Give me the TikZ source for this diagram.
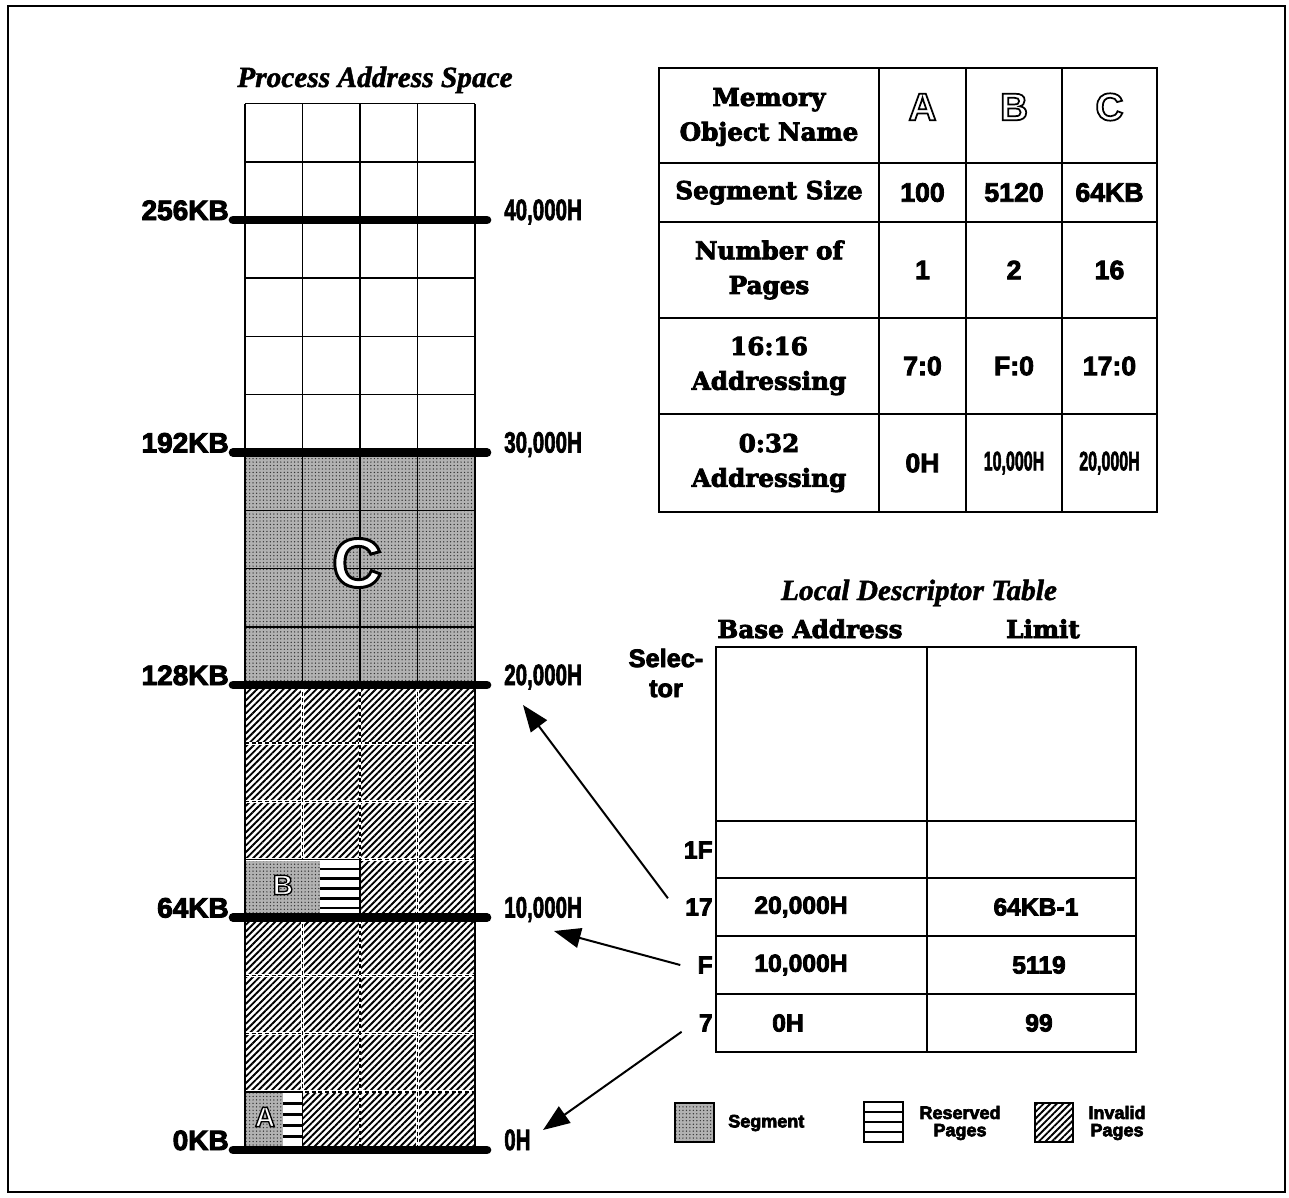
\documentclass[tikz,border=0pt]{standalone}
\usepackage{fontspec}
\usepackage{graphicx}
\setmainfont{Liberation Serif}
\newfontfamily\sansf{Liberation Sans}
\newfontfamily\hserif{DejaVu Serif}
\usetikzlibrary{arrows.meta,patterns.meta}
\newcommand\cnd[2]{\scalebox{#1}[1]{#2}}
% outlined letter via text render mode (fill white, stroke black)
\newcommand\olt[2]{\special{pdf:literal direct 2 Tr #1 w 1 g 0 G}#2\special{pdf:literal direct 0 Tr 0 g 0 G}}
% heavier text (fill + thin stroke)
\newcommand\hvon[1]{\special{pdf:literal direct 2 Tr #1 w}}
\newcommand\hvoff{\special{pdf:literal direct 0 Tr}}
\tikzset{
 heavy/.style={execute at begin node={\hvon{#1}},execute at end node={\hvoff}},
 seg/.style={fill=black!30,postaction={pattern={Dots[distance=2.6pt,radius=0.55pt]},pattern color=black!80}},
 inval/.style={pattern={Lines[angle=45,distance=3.5pt,line width=1.4pt]}},
 bar/.style={line width=6.5pt,line cap=round},
 gl/.style={line width=1.1pt},
 dl/.style={line width=1pt,dash pattern=on 3pt off 2pt},
 wl/.style={line width=2.2pt,white},
 tl/.style={line width=1.5pt},
 resl/.style={line width=2pt},
 klab/.style={inner sep=0pt,heavy=0.7,font=\sansf\bfseries\fontsize{21}{21}\selectfont},
 hlab/.style={inner sep=0pt,heavy=0.6,font=\sansf\bfseries\fontsize{22}{22}\selectfont},
 ttl/.style={inner sep=0pt,heavy=0.35,font=\bfseries\itshape\fontsize{22}{22}\selectfont},
 hs/.style={inner sep=0pt,align=center,font=\hserif\bfseries\fontsize{18.5}{26}\selectfont},
 num/.style={inner sep=0pt,heavy=0.6,font=\sansf\bfseries\fontsize{20}{20}\selectfont},
 ldt/.style={inner sep=0pt,heavy=0.6,font=\sansf\bfseries\fontsize{18.5}{18.5}\selectfont},
 sel/.style={inner sep=0pt,heavy=0.6,outer xsep=13pt,anchor=east,font=\sansf\bfseries\fontsize{18.5}{18.5}\selectfont},
 leg/.style={inner sep=0pt,align=center,font=\sansf\bfseries\fontsize{13.5}{13}\selectfont},
 olet/.style={inner sep=0pt,font=\sansf\bfseries\fontsize{#1}{#1}\selectfont},
 arr/.style={line width=1.5pt,-{Triangle[length=20pt,width=15pt]}},
}
\begin{document}
\begin{tikzpicture}[x=0.75pt,y=-0.75pt]
\useasboundingbox (0,0) rectangle (1289,1197);
\draw[line width=1.5pt] (8,6) rectangle (1285,1192);

% ---------- process address space ----------
\node[ttl,anchor=base] (pas) at (375,87) {Process Address Space};
\fill[seg] (245,452.5) rectangle (475,685);
\fill[inval] (245,685) rectangle (475,1150);
% B segment
\fill[white] (245,859.375) rectangle (360,917.5);
\fill[seg] (245,859.375) rectangle (320,917.5);
\foreach \i in {0,...,5} \draw[resl] (320,{859.375+\i*9.7}) -- (360,{859.375+\i*9.7});
% A segment
\fill[white] (245,1091.875) rectangle (302.5,1150);
\fill[seg] (245,1091.875) rectangle (283,1150);
\foreach \i in {0,...,4} \draw[resl] (283,{1092+\i*11.2}) -- (302.5,{1092+\i*11.2});
% solid grid (white + C region)
\foreach \k in {9,10,11,13,14,15,17,18} \draw[gl] (245,{1150-58.125*\k}) -- (475,{1150-58.125*\k});
\foreach \x in {302.5,360,417.5} \draw[gl] (\x,103.75) -- (\x,685);
% dashed grid (invalid region)
\foreach \k in {1,2,3,5,6,7} {\draw[wl] (245,{1150-58.125*\k}) -- (475,{1150-58.125*\k});
  \draw[dl] (245,{1150-58.125*\k}) -- (475,{1150-58.125*\k});}
\foreach \x/\a/\b in {302.5/685/859.375, 302.5/917.5/1091.875, 360/685/859.375, 360/917.5/1150, 417.5/685/1150}
  {\draw[wl] (\x,\a) -- (\x,\b); \draw[dl] (\x,\a) -- (\x,\b);}
\draw[gl] (245,859.375) rectangle (360,917.5);
\draw[gl] (245,1091.875) rectangle (302.5,1150);
\draw[gl] (245,103.75) -- (245,1150);
\draw[gl] (475,103.75) -- (475,1150);
% thick address lines
\foreach \k in {0,4,8,12,16} \draw[bar] (233,{1150-58.125*\k}) -- (487,{1150-58.125*\k});
% letters
\node[olet=52] (lc) at (357,563) {\olt{2.2}{C}};
\node[olet=21] (lb) at (283,885) {\olt{1}{B}};
\node[olet=21] (la) at (265,1117) {\olt{1}{A}};
% address labels
\node[klab,anchor=base east] (k256) at (229,220) {256KB};
\node[klab,anchor=base east] (k192) at (229,452.5) {192KB};
\node[klab,anchor=base east] (k128) at (229,685) {128KB};
\node[klab,anchor=base east] (k64) at (229,917.5) {64KB};
\node[klab,anchor=base east] (k0) at (229,1150) {0KB};
\node[hlab,anchor=base west] (h40) at (504,220) {\cnd{0.7}{40,000H}};
\node[hlab,anchor=base west] (h30) at (504,452.5) {\cnd{0.7}{30,000H}};
\node[hlab,anchor=base west] (h20) at (504,685) {\cnd{0.7}{20,000H}};
\node[hlab,anchor=base west] (h10) at (504,917.5) {\cnd{0.7}{10,000H}};
\node[hlab,anchor=base west] (h0) at (504,1150) {\cnd{0.7}{0H}};

% ---------- memory object table ----------
\draw[tl] (659,68) rectangle (1157,512);
\foreach \x in {879,966,1062} \draw[tl] (\x,68) -- (\x,512);
\foreach \y in {163,222,318,414} \draw[tl] (659,\y) -- (1157,\y);
\node[hs] (mon) at (769,117) {\hvon{0.6}Memory\\Object Name\hvoff};
\node[olet=29] (ha) at (922.5,107) {\olt{1.3}{A}};
\node[olet=29] (hb) at (1014,107) {\olt{1.3}{B}};
\node[olet=29] (hc) at (1109.5,107) {\olt{1.3}{C}};
\node[hs] (ss) at (769,192.5) {\hvon{0.6}Segment Size\hvoff};
\node[num] (ssa) at (922.5,192.5) {100};
\node[num] (ssb) at (1014,192.5) {5120};
\node[num] (ssc) at (1109.5,192.5) {64KB};
\node[hs] (np) at (769,270) {\hvon{0.6}Number of\\Pages\hvoff};
\node[num] (npa) at (922.5,270) {1};
\node[num] (npb) at (1014,270) {2};
\node[num] (npc) at (1109.5,270) {16};
\node[hs] (a16) at (769,366) {\hvon{0.6}16:16\\Addressing\hvoff};
\node[num] (a16a) at (922.5,366) {7:0};
\node[num] (a16b) at (1014,366) {F:0};
\node[num] (a16c) at (1109.5,366) {17:0};
\node[hs] (a32) at (769,463) {\hvon{0.6}0:32\\Addressing\hvoff};
\node[num] (a32a) at (922.5,463) {0H};
\node[num] (a32b) at (1014,463) {\cnd{0.6}{10,000H}};
\node[num] (a32c) at (1109.5,463) {\cnd{0.6}{20,000H}};

% ---------- local descriptor table ----------
\node[ttl,anchor=base] (ldtt) at (919,600) {Local Descriptor Table};
\node[hs,anchor=base] (bah) at (810,638) {\hvon{0.6}Base Address\hvoff};
\node[hs,anchor=base] (lih) at (1043,638) {\hvon{0.6}Limit\hvoff};
\draw[tl] (716,647) rectangle (1136,1052);
\draw[tl] (927,647) -- (927,1052);
\foreach \y in {821,878,936,994} \draw[tl] (716,\y) -- (1136,\y);
\node[inner sep=0pt,align=center,font=\sansf\bfseries\fontsize{19}{22.5}\selectfont] (selh) at (666,673) {\hvon{0.6}Selec-\\tor\hvoff};
\node[sel] (s1F) at (730,850) {1F};
\node[sel] (s17) at (730,907) {17};
\node[sel] (sF) at (730,965) {F};
\node[sel] (s7) at (730,1023) {7};
\node[ldt] (b17) at (801,907) {20,000H};
\node[ldt] (l17) at (1036,907) {64KB-1};
\node[ldt] (bF) at (801,965) {10,000H};
\node[ldt] (lF) at (1039,965) {5119};
\node[ldt] (b7) at (788,1023) {0H};
\node[ldt] (l7) at (1039,1023) {99};

% arrows
\coordinate (t17) at (523,705);
\coordinate (tF) at (554,931);
\coordinate (t7) at (543,1130);
\draw[arr] (s17.north west) -- (t17);
\draw[arr] (sF.west) -- (tF);
\draw[arr] (s7.south west) -- (t7);

% ---------- legend ----------
\fill[seg] (675,1103) rectangle (714,1142);
\draw[tl] (675,1103) rectangle (714,1142);
\node[leg,anchor=west] (lgs) at (728,1123) {\hvon{0.5}Segment\hvoff};
\draw[tl] (864,1102) rectangle (903,1142);
\foreach \y in {1112,1122,1132} \draw[resl] (864,\y) -- (903,\y);
\node[leg] (lgr) at (960,1123) {\hvon{0.5}Reserved\\Pages\hvoff};
\fill[inval] (1035,1103) rectangle (1073,1142);
\draw[tl] (1035,1103) rectangle (1073,1142);
\node[leg] (lgi) at (1117,1123) {\hvon{0.5}Invalid\\Pages\hvoff};
\end{tikzpicture}
\end{document}
